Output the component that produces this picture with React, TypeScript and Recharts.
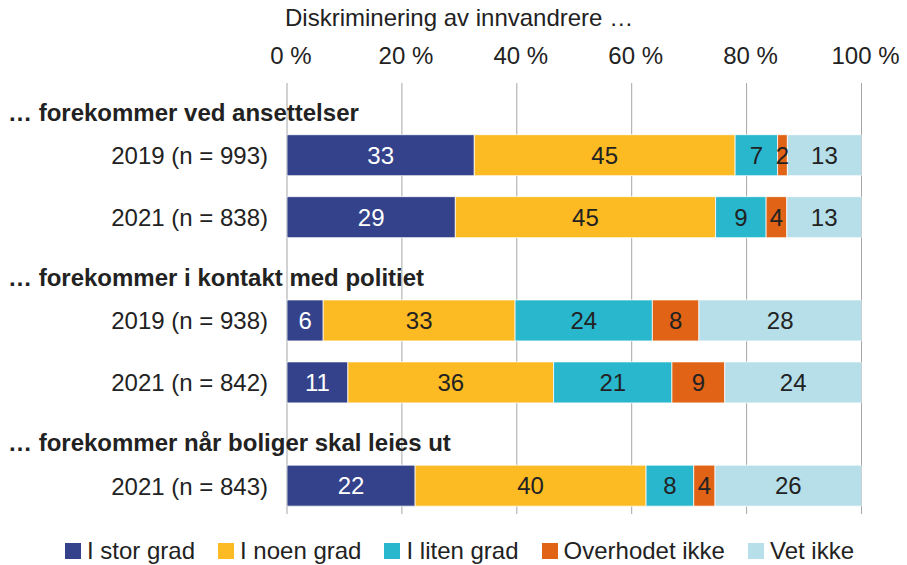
import { Bar, BarChart, CartesianGrid, LabelList, XAxis, YAxis } from "recharts";

// Stablet 100 %-søylediagram: holdninger til diskriminering av innvandrere
const TITLE = "Diskriminering av innvandrere …";

const GROUPS = [
  "… forekommer ved ansettelser",
  "… forekommer i kontakt med politiet",
  "… forekommer når boliger skal leies ut",
];
const GROUP_ROWS = [0, 8, 16];

const ROW_LABELS = [
  "2019 (n = 993)",
  "2021 (n = 838)",
  "2019 (n = 938)",
  "2021 (n = 842)",
  "2021 (n = 843)",
];
const ROW_POS = [2, 5, 10, 13, 18];

const SERIES = ["I stor grad", "I noen grad", "I liten grad", "Overhodet ikke", "Vet ikke"];
const KEYS = ["stor", "noen", "liten", "ikke", "vet"];
const COLORS = ["#33428a", "#fcba23", "#29b7ce", "#e06316", "#b6dfe9"];
const LABEL_COLORS = ["#ffffff", "#222222", "#222222", "#222222", "#222222"];

const STOR = [32.6, 29.3, 6.3, 10.6, 22.3];
const NOEN = [45.4, 45.3, 33.4, 35.8, 40.2];
const LITEN = [7.4, 8.8, 23.9, 20.6, 8.3];
const IKKE = [1.7, 3.6, 8.1, 9.2, 3.7];
const VET = [12.9, 13.0, 28.3, 23.8, 25.5];

const X_TICKS = [0, 20, 40, 60, 80, 100];
const Y_TICKS = [...GROUP_ROWS, ...ROW_POS].sort((a, b) => a - b);

const data = ROW_LABELS.map((label, i) => ({
  label,
  pos: ROW_POS[i],
  stor: STOR[i],
  noen: NOEN[i],
  liten: LITEN[i],
  ikke: IKKE[i],
  vet: VET[i],
}));

const Y_DOMAIN: [number, number] = [-1.52, 19.35];

// rad-etiketter høyrejustert, gruppeoverskrifter i fet skrift helt til venstre
function RowTick(props: any) {
  const { x, y, payload } = props;
  const g = GROUP_ROWS.indexOf(payload.value);
  if (g >= 0) {
    return (
      <text x={8} y={y} dy={6.5} fontSize={24} fontWeight="bold" fill="#222">
        {GROUPS[g]}
      </text>
    );
  }
  return (
    <text x={x} y={y} dy={8.5} fontSize={24} fill="#222" textAnchor="end">
      {ROW_LABELS[ROW_POS.indexOf(payload.value)]}
    </text>
  );
}

export default function App() {
  return (
    <div
      style={{
        position: "absolute",
        left: 0,
        top: 0,
        width: 907,
        height: 565,
        background: "#fff",
        color: "#222",
        fontFamily: "'Liberation Sans', Arial, sans-serif",
      }}
    >
      <div style={{ position: "absolute", left: 285, top: 6, fontSize: 24, lineHeight: "24px" }}>
        {TITLE}
      </div>
      <BarChart
        width={907}
        height={565}
        data={data}
        layout="vertical"
        margin={{ top: 0, right: 45.5, bottom: 51, left: 0 }}
      >
        <CartesianGrid horizontal={false} stroke="#a6a6a6" />
        <XAxis
          type="number"
          orientation="top"
          domain={[0, 100]}
          ticks={X_TICKS}
          interval={0}
          allowDataOverflow
          height={83}
          axisLine={false}
          tickLine={false}
          tickSize={0}
          tickMargin={19}
          tickFormatter={(v) => `${v} %`}
          tick={{ fill: "#222", fontSize: 24, dx: 4 }}
        />
        <YAxis
          type="number"
          dataKey="pos"
          domain={Y_DOMAIN}
          allowDataOverflow
          ticks={Y_TICKS}
          interval={0}
          width={287}
          axisLine={false}
          tickLine={false}
          tickSize={0}
          tickMargin={19}
          tick={<RowTick />}
        />
        {KEYS.map((key, i) => (
          <Bar
            key={key}
            dataKey={key}
            name={SERIES[i]}
            stackId="a"
            fill={COLORS[i]}
            stroke="#ffffff"
            strokeWidth={0.75}
            barSize={41}
            isAnimationActive={false}
          >
            <LabelList
              dataKey={key}
              position="center"
              formatter={(v: any) => Math.round(Number(v))}
              fill={LABEL_COLORS[i]}
              fontSize={24}
            />
          </Bar>
        ))}
      </BarChart>
      <div
        style={{
          position: "absolute",
          left: 6,
          top: 539,
          width: 907,
          height: 24,
          display: "flex",
          justifyContent: "center",
          alignItems: "center",
          gap: 23,
          fontSize: 24,
          lineHeight: "24px",
        }}
      >
        {SERIES.map((name, i) => (
          <div key={name} style={{ display: "flex", alignItems: "center" }}>
            <span style={{ width: 16, height: 16, background: COLORS[i], marginRight: 6 }} />
            <span>{name}</span>
          </div>
        ))}
      </div>
    </div>
  );
}
